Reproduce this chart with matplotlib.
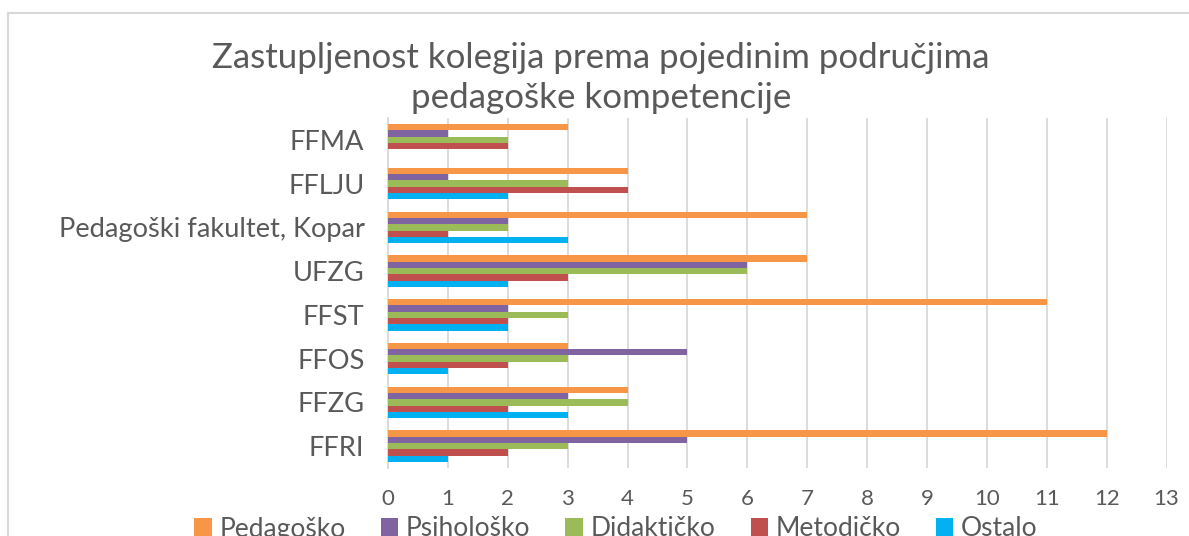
import numpy as np
import matplotlib.pyplot as plt
import matplotlib.patches as mpatches
from matplotlib.lines import Line2D

# ---------------- podaci ----------------
fakulteti = ['FFRI', 'FFZG', 'FFOS', 'FFST', 'UFZG',
             'Pedagoški fakultet, Kopar', 'FFLJU', 'FFMA']
serije = ['Pedagoško', 'Psihološko', 'Didaktičko', 'Metodičko', 'Ostalo']

pedagosko = [12, 4, 3, 11, 7, 7, 4, 3]
psiholosko = [5, 3, 5, 2, 6, 2, 1, 1]
didakticko = [3, 4, 3, 3, 6, 2, 3, 2]
metodicko = [2, 2, 2, 2, 3, 1, 4, 2]
ostalo = [1, 3, 1, 2, 2, 3, 2, 0]

boje = ['#F79646', '#8064A2', '#9BBB59', '#C0504D', '#00B0F0']
siva_tekst = '#595959'
siva_linija = '#D9D9D9'

plt.rcParams['font.family'] = ['Lato', 'DejaVu Sans']

fig = plt.figure(figsize=(11.89, 5.36), dpi=100)
ax = fig.add_axes([388 / 1189, 1 - 468 / 536, (1166.5 - 388) / 1189, (468 - 118) / 536])

y = np.arange(len(fakulteti))
visina = 0.145
podaci = [pedagosko, psiholosko, didakticko, metodicko, ostalo]
# prva serija je gore u svakoj grupi
for i, (vrijednosti, boja) in enumerate(zip(podaci, boje)):
    pomak = (2 - i) * visina
    ax.barh(y + pomak, vrijednosti, height=visina, color=boja, zorder=3)

ax.set_xlim(0, 13)
ax.set_ylim(-0.5, len(fakulteti) - 0.5)
ax.set_xticks(range(0, 14))
ax.set_yticks(y)
ax.set_yticklabels(fakulteti)
ax.tick_params(axis='y', length=0, pad=17, labelsize=19.6, labelcolor=siva_tekst)
ax.tick_params(axis='x', length=0, pad=15, labelsize=16, labelcolor=siva_tekst)
ax.xaxis.grid(True, color=siva_linija, linewidth=1.3, zorder=0)
for s in ['top', 'right', 'bottom']:
    ax.spines[s].set_visible(False)
ax.spines['left'].set_color(siva_linija)
ax.spines['left'].set_linewidth(1.3)

# naslov
fig.text(601 / 1189, 1 - 78 / 536,
         'Zastupljenost kolegija prema pojedinim područjima\npedagoške kompetencije',
         ha='center', va='center', fontsize=25.1, color=siva_tekst, linespacing=1.32)

# okvir grafikona (odrezan desno i dolje)
fig.add_artist(Line2D([8 / 1189, 1], [1 - 12.5 / 536, 1 - 12.5 / 536],
                      transform=fig.transFigure, color=siva_linija, linewidth=1.5))
fig.add_artist(Line2D([8 / 1189, 8 / 1189], [0, 1 - 12.5 / 536],
                      transform=fig.transFigure, color=siva_linija, linewidth=1.5))

# legenda
legenda = [mpatches.Patch(facecolor=b, label=s) for s, b in zip(serije, boje)]
fig.legend(handles=legenda, loc='center', bbox_to_anchor=(616 / 1189, 1 - 529 / 536),
           ncol=5, frameon=False, fontsize=19, labelcolor=siva_tekst,
           handlelength=0.65, handleheight=0.65, handletextpad=0.3,
           columnspacing=1.33, borderpad=0)

fig.savefig('out.png', dpi=100)
